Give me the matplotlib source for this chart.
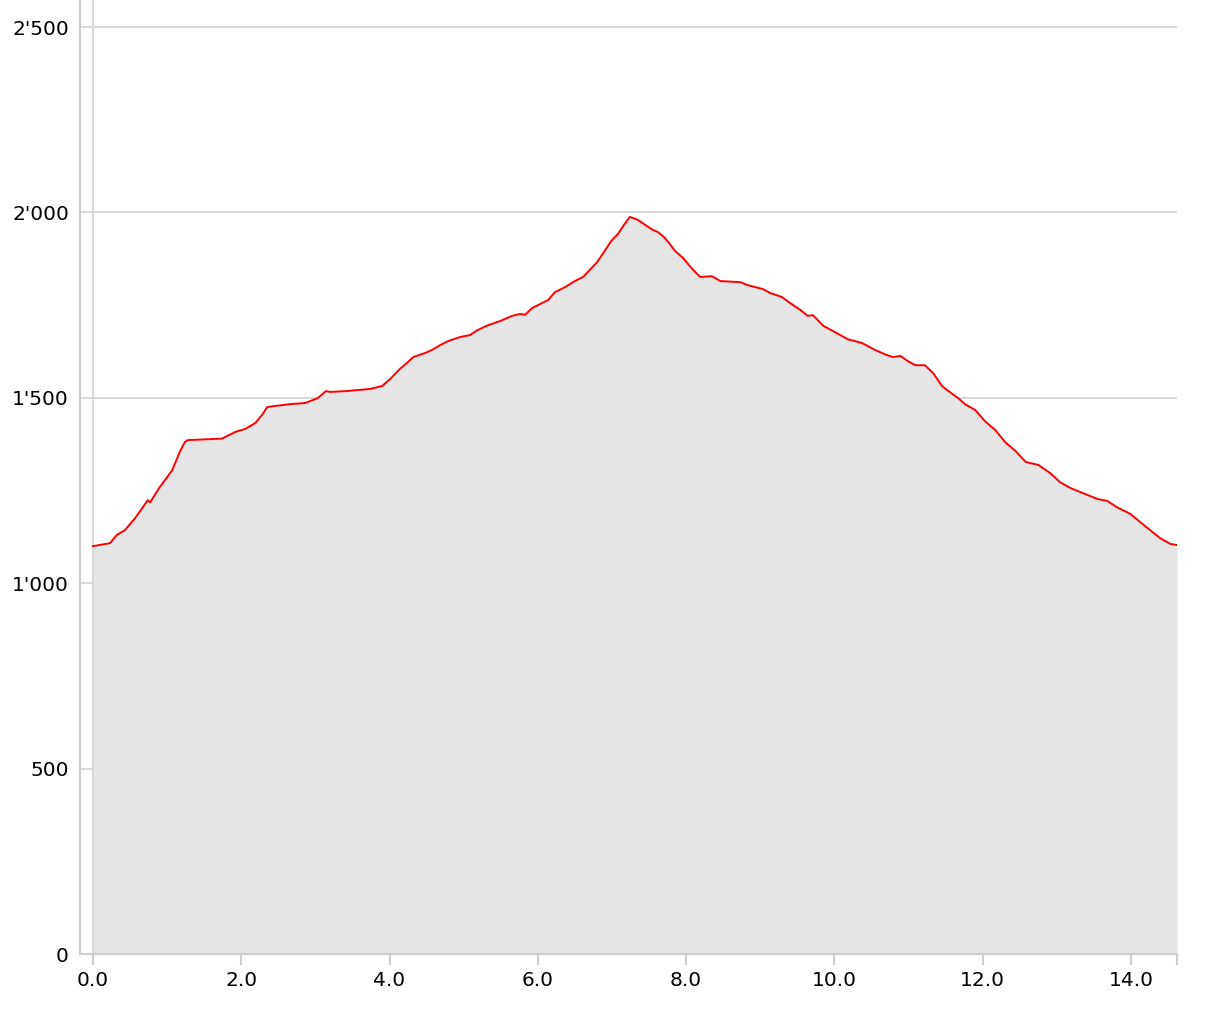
import matplotlib
matplotlib.use("Agg")
from matplotlib import pyplot as plt
from matplotlib.ticker import FuncFormatter
import numpy as np

# distance (km) and elevation (m)
dist = [0.00, 0.23, 0.32, 0.43, 0.57, 0.74, 0.77, 0.90, 1.07, 1.17, 1.24, 1.28,
        1.74, 1.92, 2.05, 2.19, 2.28, 2.35, 2.45, 2.66, 2.86, 3.03, 3.14, 3.20,
        3.40, 3.74, 3.90, 4.01, 4.14, 4.25, 4.32, 4.48, 4.57, 4.68, 4.79, 4.95,
        5.08, 5.19, 5.33, 5.49, 5.65, 5.76, 5.83, 5.92, 6.03, 6.14, 6.23, 6.37,
        6.50, 6.61, 6.70, 6.80, 6.91, 6.99, 7.08, 7.16, 7.24, 7.35, 7.45, 7.55,
        7.62, 7.70, 7.78, 7.85, 7.96, 8.05, 8.11, 8.19, 8.35, 8.46, 8.73, 8.83,
        9.04, 9.13, 9.29, 9.40, 9.54, 9.64, 9.71, 9.85, 10.01, 10.18, 10.37,
        10.55, 10.71, 10.79, 10.89, 10.99, 11.09, 11.22, 11.33, 11.45, 11.52,
        11.67, 11.76, 11.90, 12.03, 12.17, 12.30, 12.44, 12.58, 12.75, 12.91,
        13.04, 13.18, 13.45, 13.55, 13.68, 13.81, 13.99, 14.19, 14.39, 14.53,
        14.62]
elev = [1100, 1108, 1130, 1143, 1176, 1224, 1218, 1259, 1305, 1354, 1381, 1386,
        1390, 1408, 1416, 1432, 1454, 1475, 1478, 1483, 1486, 1499, 1518, 1516,
        1518, 1524, 1532, 1551, 1578, 1597, 1610, 1621, 1629, 1642, 1653, 1664,
        1669, 1683, 1696, 1707, 1721, 1726, 1724, 1742, 1753, 1764, 1785, 1799,
        1815, 1826, 1845, 1866, 1899, 1923, 1942, 1966, 1988, 1980, 1966, 1953,
        1947, 1934, 1915, 1896, 1877, 1855, 1842, 1826, 1828, 1815, 1812, 1804,
        1793, 1783, 1772, 1756, 1737, 1721, 1723, 1694, 1677, 1658, 1648,
        1629, 1615, 1610, 1613, 1599, 1588, 1588, 1567, 1532, 1521,
        1499, 1483, 1467, 1437, 1413, 1381, 1357, 1327, 1319, 1297,
        1273, 1257, 1235, 1227, 1222, 1205, 1187, 1154, 1122, 1106,
        1103]

xticks = [0, 2, 4, 6, 8, 10, 12, 14]
yticks = [0, 500, 1000, 1500, 2000, 2500]

grid_col = '#d9d9d9'
spine_col = '#cccccc'

plt.rcParams['font.family'] = ['DejaVu Sans']
fig = plt.figure(figsize=(12.07, 10.10), dpi=100)
ax = fig.add_axes([80 / 1207, 56 / 1010, 1097 / 1207, 954 / 1010])

ax.fill_between(dist, elev, 0, color='#e5e5e5', lw=0, zorder=1)
ax.plot(dist, elev, color='red', lw=1.4, zorder=3)

ax.set_xlim(-0.175, dist[-1])
ax.set_ylim(0, 2573)

ax.set_xticks(xticks)
ax.set_xticks([dist[-1]], minor=True)
ax.xaxis.set_major_formatter(FuncFormatter(lambda v, p: f'{v:.1f}'))
ax.set_yticks(yticks)
ax.yaxis.set_major_formatter(FuncFormatter(lambda v, p: f'{int(v):,}'.replace(',', "'")))

for y in yticks[1:]:
    ax.axhline(y, color=grid_col, lw=1.5, zorder=0)
ax.axvline(0, color=grid_col, lw=1.5, zorder=2)

for s in ['top', 'right']:
    ax.spines[s].set_visible(False)
for s in ['left', 'bottom']:
    ax.spines[s].set_color(spine_col)
    ax.spines[s].set_linewidth(1.5)

ax.tick_params(axis='x', which='both', length=8, width=1.5, color=spine_col,
               labelsize=14.5, pad=4)
ax.tick_params(axis='y', length=0, labelsize=14.5, pad=8)

fig.savefig('out.png', dpi=100)
